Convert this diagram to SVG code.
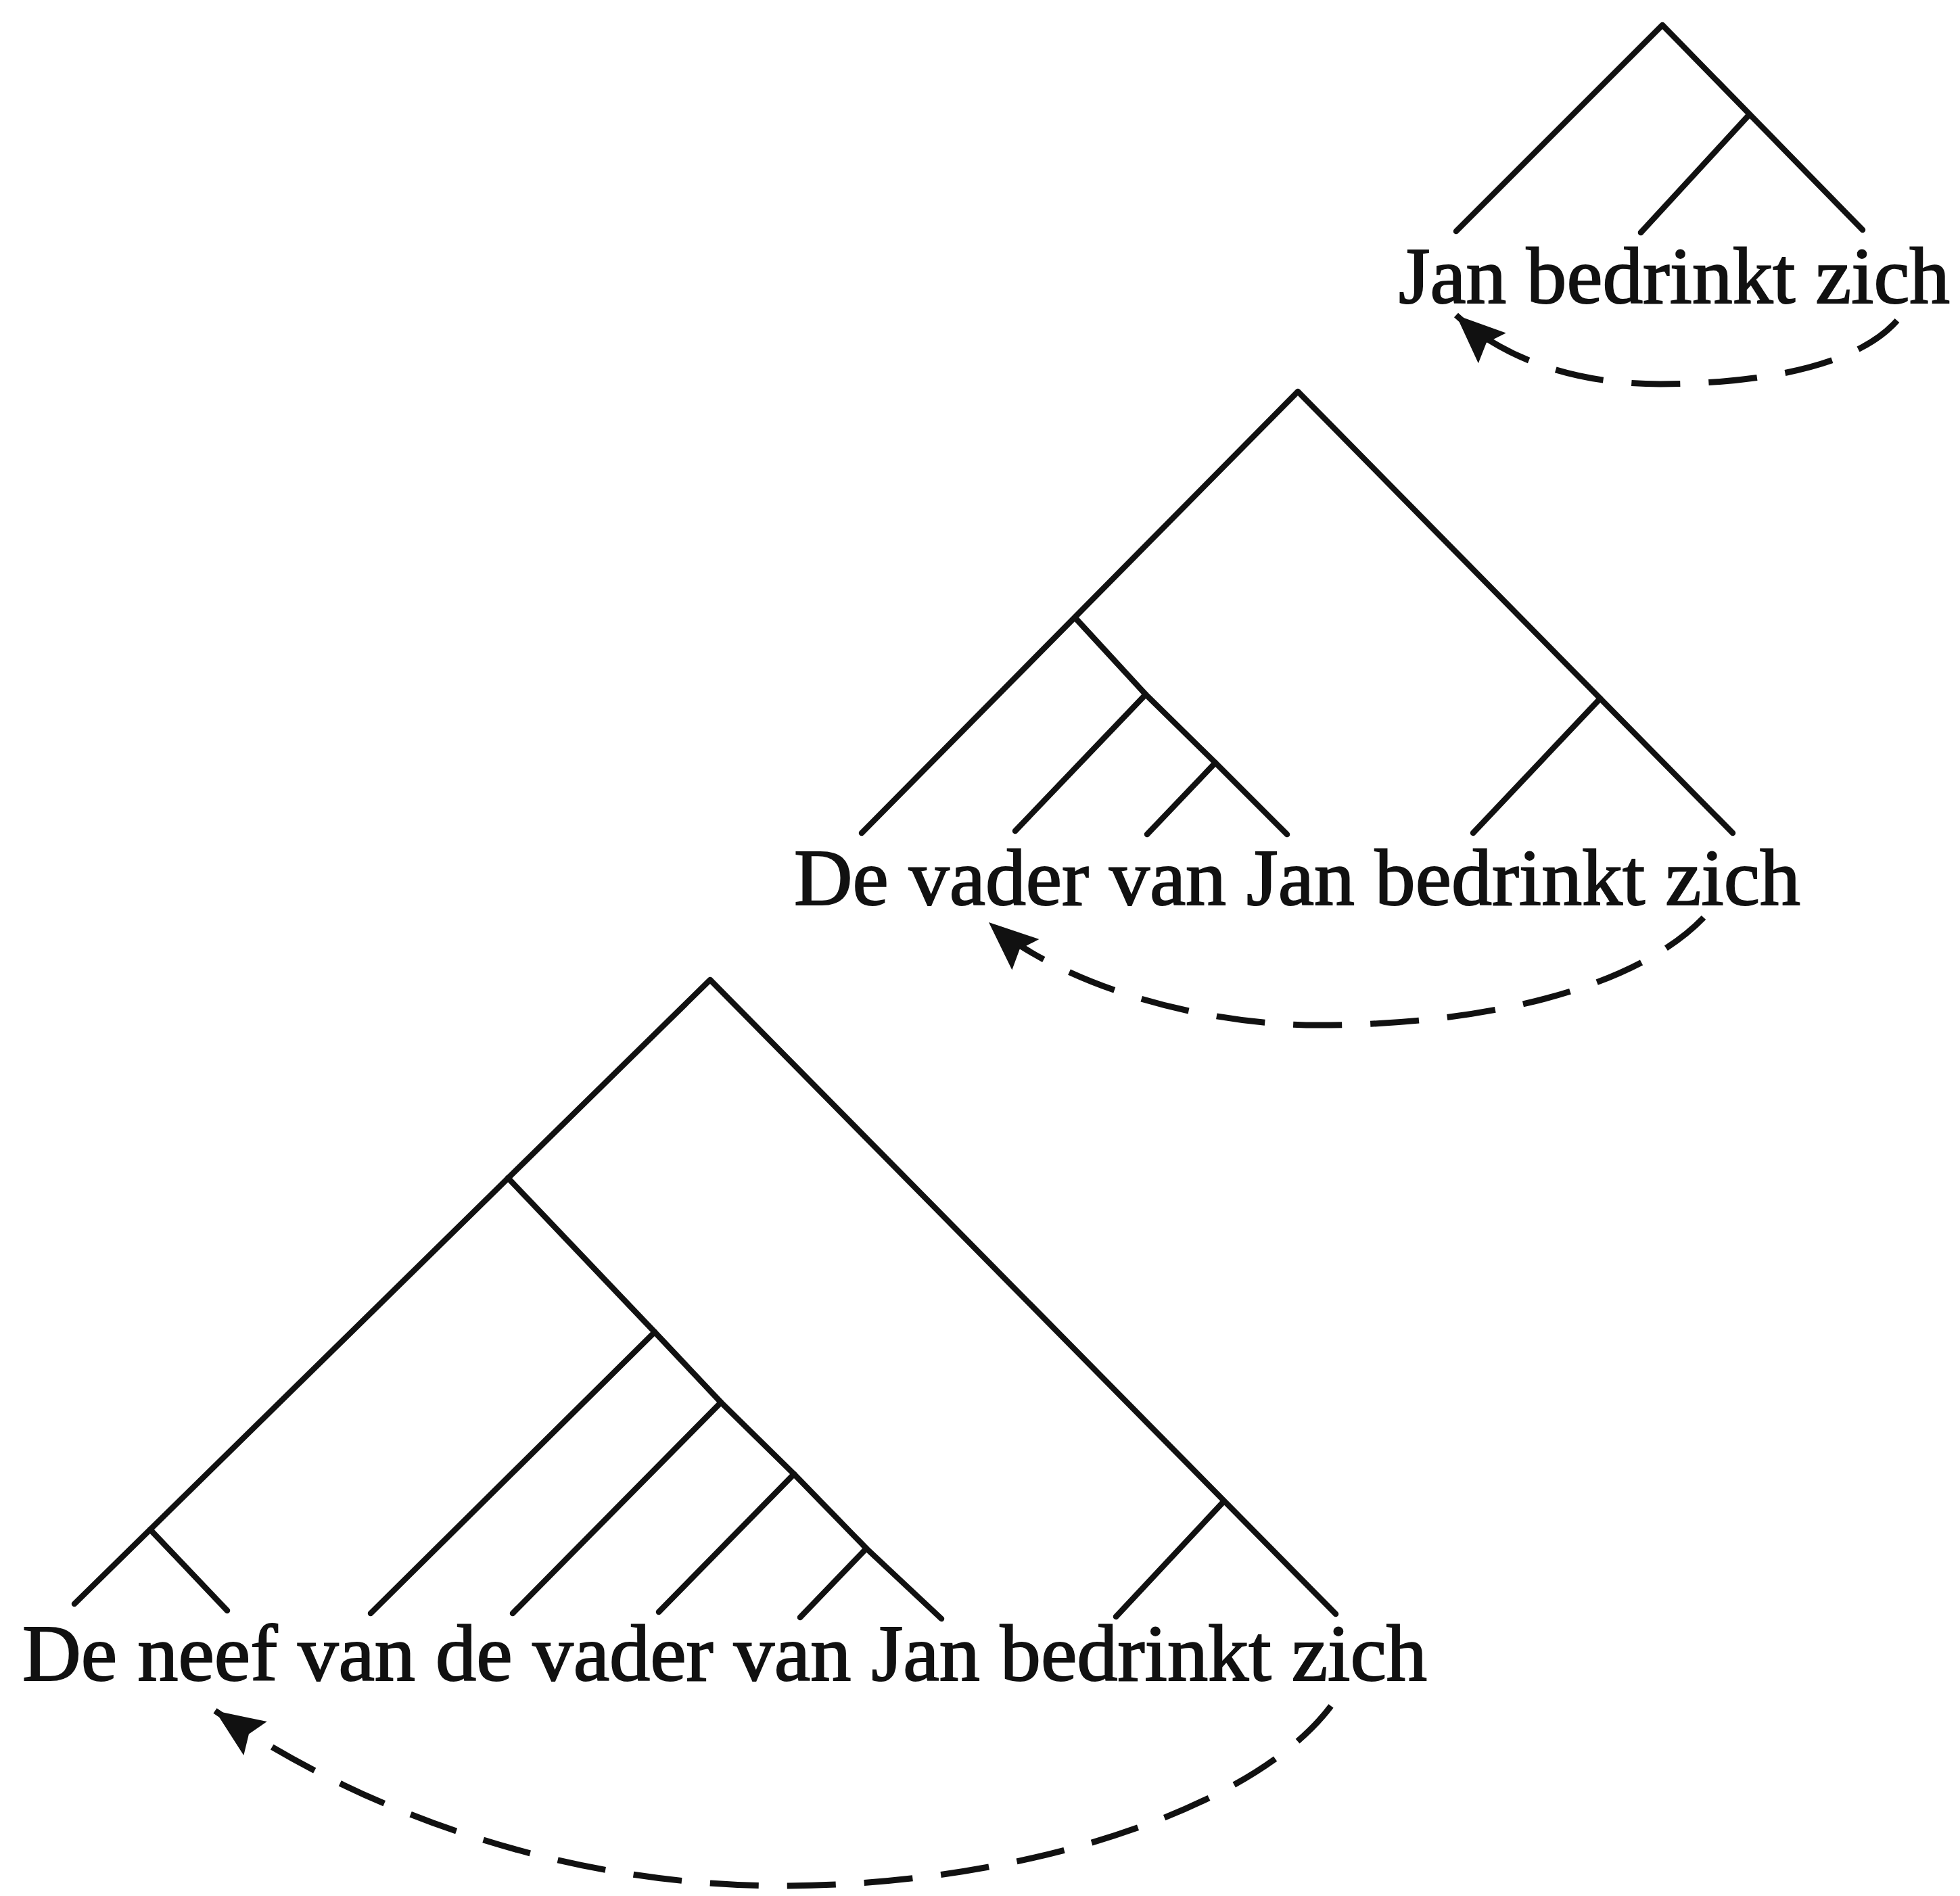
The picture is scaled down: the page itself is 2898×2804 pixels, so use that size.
<svg xmlns="http://www.w3.org/2000/svg" width="2898" height="2804" viewBox="0 0 2898 2804">
<style>
.br{fill:none;stroke:#111;stroke-width:8.5;stroke-linecap:round;stroke-linejoin:round}
.lbl{font-family:"Liberation Serif","Times New Roman",serif;font-size:118px;fill:#111;stroke:#111;stroke-width:2}
.arc{fill:none;stroke:#111;stroke-width:9;stroke-dasharray:72 42;stroke-linecap:butt}
</style>
<defs>
<marker id="ah" markerUnits="userSpaceOnUse" markerWidth="90" markerHeight="70" viewBox="-70 -30 72 60" refX="0" refY="0" orient="auto">
<path d="M0,0 L-62,-26 L-52,0 L-62,26 Z" fill="#111"/>
</marker>
</defs>
<rect width="2898" height="2804" fill="#fff"/>
<g id="tree1">
<path class="br" d="M2153,342 L2458,37 L2754,340"/>
<path class="br" d="M2586,170 L2426,344"/>
<text class="lbl" x="2068" y="448" textLength="815" lengthAdjust="spacingAndGlyphs">Jan bedrinkt zich</text>
</g>
<g id="tree2">
<path class="br" d="M1274,1232 L1919,579 L2562,1232"/>
<path class="br" d="M1590,914 L1694,1027 L1797,1128 L1903,1234"/>
<path class="br" d="M1694,1027 L1501,1229"/>
<path class="br" d="M1797,1128 L1696,1234"/>
<path class="br" d="M2366,1033 L2178,1232"/>
<text class="lbl" x="1174" y="1338" textLength="1488" lengthAdjust="spacingAndGlyphs">De vader van Jan bedrinkt zich</text>
</g>
<g id="tree3">
<path class="br" d="M110,2372 L1050,1449 L1975,2387"/>
<path class="br" d="M222,2262 L336,2382"/>
<path class="br" d="M751,1742 L968,1970 L1066,2074 L1174,2180 L1281,2290 L1392,2394"/>
<path class="br" d="M968,1970 L548,2386"/>
<path class="br" d="M1066,2074 L758,2386"/>
<path class="br" d="M1174,2180 L974,2384"/>
<path class="br" d="M1281,2290 L1183,2392"/>
<path class="br" d="M1808,2222 L1650,2391"/>
<text class="lbl" x="33" y="2485" textLength="2077" lengthAdjust="spacingAndGlyphs">De neef van de vader van Jan bedrinkt zich</text>
</g>
<g id="connectors">
<path class="arc" marker-end="url(#ah)" d="M2805,474 C2750,537 2620,567 2455,568 C2330,568 2225,532 2153,466"/>
<path class="arc" marker-end="url(#ah)" d="M2519,1357 C2420,1460 2200,1516 1950,1516 C1760,1516 1560,1450 1462,1364"/>
<path class="arc" marker-end="url(#ah)" d="M1968,2523 C1850,2680 1500,2790 1150,2789 C850,2788 550,2690 318,2530"/>
</g>
</svg>
